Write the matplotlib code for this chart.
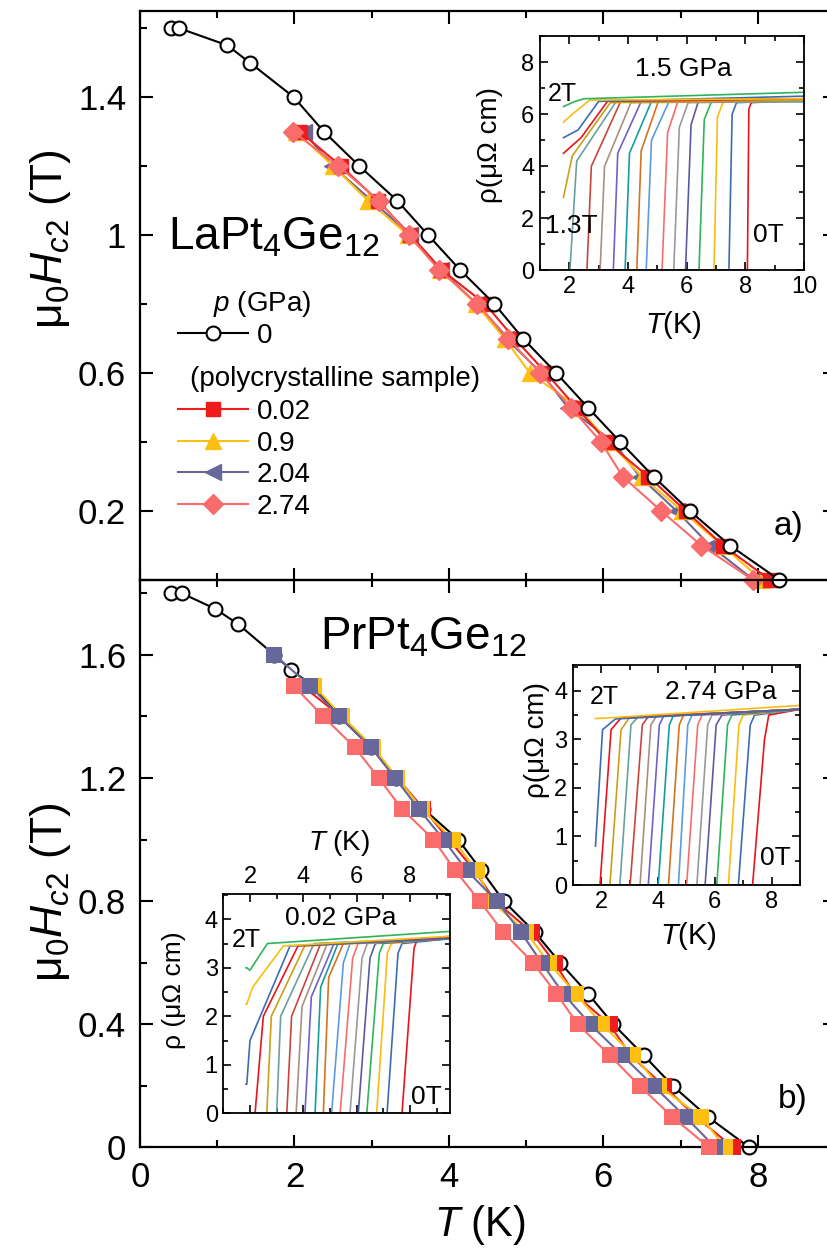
import matplotlib
matplotlib.use('Agg')
import matplotlib.pyplot as plt
from matplotlib.ticker import MultipleLocator, FixedLocator, FuncFormatter

plt.rcParams['font.family'] = ['Liberation Sans', 'DejaVu Sans']
plt.rcParams['mathtext.fontset'] = 'custom'
plt.rcParams['mathtext.rm'] = 'Liberation Sans'
plt.rcParams['mathtext.it'] = 'Liberation Sans:italic'
plt.rcParams['mathtext.bf'] = 'Liberation Sans:bold'

# ---------------- data: main panels ----------------
# LaPt4Ge12, p = 0 (polycrystalline sample)
la_T_0 = [0.4, 0.5, 1.13, 1.42, 1.99, 2.38, 2.84, 3.33, 3.73, 4.14, 4.59, 4.96, 5.39, 5.80, 6.22, 6.65, 7.12, 7.64, 8.28]
la_H_0 = [1.6, 1.6, 1.55, 1.5, 1.4, 1.3, 1.2, 1.1, 1.0, 0.9, 0.8, 0.7, 0.6, 0.5, 0.4, 0.3, 0.2, 0.1, 0.0]
la_H = [1.3, 1.2, 1.1, 1.0, 0.9, 0.8, 0.7, 0.6, 0.5, 0.4, 0.3, 0.2, 0.1, 0.0]
la_T_002 = [2.07, 2.60, 3.08, 3.50, 3.90, 4.47, 4.85, 5.26, 5.65, 6.05, 6.58, 7.07, 7.55, 8.16]
la_T_09 = [2.02, 2.50, 2.95, 3.47, 3.88, 4.35, 4.72, 5.05, 5.67, 6.07, 6.50, 7.02, 7.54, 8.05]
la_T_204 = [2.12, 2.49, 3.00, 3.50, 3.90, 4.36, 4.74, 5.20, 5.54, 6.13, 6.47, 6.95, 7.38, 7.95]
la_T_274 = [1.98, 2.57, 3.09, 3.48, 3.87, 4.37, 4.77, 5.18, 5.58, 5.97, 6.25, 6.75, 7.27, 7.94]

# PrPt4Ge12
pr_T_0 = [0.4, 0.54, 0.97, 1.27, 1.74, 1.96, 2.24, 2.58, 2.99, 3.32, 3.67, 4.12, 4.42, 4.71, 5.11, 5.44, 5.80, 6.13, 6.52, 6.90, 7.35, 7.89]
pr_H_0 = [1.8, 1.8, 1.75, 1.7, 1.6, 1.55, 1.5, 1.4, 1.3, 1.2, 1.1, 1.0, 0.9, 0.8, 0.7, 0.6, 0.5, 0.4, 0.3, 0.2, 0.1, 0.0]
pr_H = [1.5, 1.4, 1.3, 1.2, 1.1, 1.0, 0.9, 0.8, 0.7, 0.6, 0.5, 0.4, 0.3, 0.2, 0.1, 0.0]
pr_T_002 = [2.10, 2.60, 3.00, 3.33, 3.67, 4.00, 4.33, 4.60, 5.07, 5.37, 5.62, 6.08, 6.35, 6.78, 7.20, 7.68]
pr_T_09 = [2.25, 2.62, 3.02, 3.33, 3.65, 4.05, 4.36, 4.55, 5.00, 5.29, 5.64, 5.98, 6.39, 6.72, 7.26, 7.58]
pr_H_204 = [1.6] + pr_H
pr_T_204 = [1.74, 2.20, 2.58, 2.99, 3.30, 3.61, 3.93, 4.23, 4.62, 4.93, 5.20, 5.48, 5.83, 6.24, 6.65, 7.06, 7.45]
pr_T_274 = [1.99, 2.37, 2.78, 3.09, 3.39, 3.80, 4.08, 4.40, 4.70, 5.09, 5.39, 5.67, 6.08, 6.47, 6.89, 7.37]

# ---------------- data: resistivity insets ----------------
# each curve: rho = r0 up to t0, steep rise to (tk, rk), then up to (tn, rn), normal state to (Tmax, rend)
# top inset, LaPt4Ge12 at 1.5 GPa, fields 0T ... 2T
ins1_r0 = [0, 0, 0, 0, 0, 0, 0, 0, 0, 0, 0, 0, 0, 0, 2.8, 4.5, 5.1, 5.7, 6.3]
ins1_t0 = [8.07, 7.44, 6.93, 6.42, 5.96, 5.56, 5.16, 4.62, 4.30, 3.90, 3.50, 3.05, 2.60, 2.02, 1.8, 1.8, 1.8, 1.8, 1.8]
ins1_tk = [8.12, 7.55, 7.05, 6.60, 6.15, 5.75, 5.35, 4.80, 4.45, 4.05, 3.65, 3.20, 2.75, 2.25, 2.1, 2.4, 2.3, 2.2, 2.2]
ins1_rk = [6.2, 6.0, 5.9, 5.8, 5.6, 5.5, 5.3, 5.0, 4.6, 4.5, 4.5, 4.0, 4.0, 4.2, 4.4, 5.1, 5.4, 6.1, 6.5]
ins1_tn = [8.2, 7.7, 7.25, 6.85, 6.4, 6.05, 5.7, 5.4, 5.05, 4.8, 4.45, 4.1, 3.75, 3.6, 3.4, 3.3, 3.0, 2.7, 2.5]
ins1_rn = [6.45, 6.45, 6.5, 6.5, 6.5, 6.45, 6.5, 6.5, 6.55, 6.5, 6.5, 6.45, 6.5, 6.5, 6.45, 6.5, 6.5, 6.55, 6.6]
ins1_rend = [6.55, 6.55, 6.6, 6.5, 6.55, 6.5, 6.55, 6.5, 6.6, 6.5, 6.55, 6.5, 6.6, 6.5, 6.55, 6.6, 6.7, 6.6, 6.85]

# bottom-left inset, PrPt4Ge12 at 0.02 GPa
ins2_r0 = [0, 0, 0, 0, 0, 0, 0, 0, 0, 0, 0, 0, 0, 0, 0, 0, 0.6, 2.25, 3.0]
ins2_t0 = [7.70, 7.14, 6.75, 6.38, 6.06, 5.75, 5.38, 5.06, 4.75, 4.44, 4.06, 3.73, 3.38, 3.00, 2.63, 2.19, 1.88, 1.88, 1.88]
ins2_tk = [8.15, 7.55, 7.15, 6.85, 6.50, 6.20, 5.85, 5.50, 4.95, 4.65, 4.30, 3.95, 3.56, 3.15, 2.80, 2.50, 2.0, 2.1, 2.0]
ins2_rk = [3.4, 3.3, 3.3, 3.3, 3.2, 3.2, 3.2, 3.1, 2.8, 2.6, 2.4, 2.2, 2.0, 2.0, 2.0, 2.0, 1.5, 2.6, 2.95]
ins2_tn = [8.25, 7.70, 7.30, 7.00, 6.70, 6.40, 6.05, 5.75, 5.50, 5.30, 5.15, 4.90, 4.65, 4.40, 4.05, 3.80, 3.50, 3.25, 2.65]
ins2_rn = [3.55, 3.5, 3.5, 3.5, 3.5, 3.5, 3.5, 3.5, 3.5, 3.5, 3.5, 3.5, 3.5, 3.5, 3.45, 3.45, 3.45, 3.45, 3.5]
ins2_rend = [3.62, 3.6, 3.62, 3.65, 3.6, 3.62, 3.6, 3.62, 3.6, 3.62, 3.6, 3.62, 3.6, 3.62, 3.6, 3.62, 3.6, 3.65, 3.75]

# right inset, PrPt4Ge12 at 2.74 GPa
ins3_r0 = [0, 0, 0, 0, 0, 0, 0, 0, 0, 0, 0, 0, 0, 0, 0, 0, 0.8, 3.43]
ins3_t0 = [7.33, 6.83, 6.48, 6.07, 5.66, 5.37, 5.01, 4.72, 4.37, 4.01, 3.66, 3.37, 3.02, 2.66, 2.31, 1.96, 1.8, 1.8]
ins3_tk = [7.75, 7.25, 6.85, 6.45, 6.05, 5.75, 5.40, 5.05, 4.75, 4.40, 4.05, 3.75, 3.45, 3.05, 2.70, 2.35, 2.05, 1.85]
ins3_rk = [3.0, 3.3, 3.3, 3.3, 3.3, 3.3, 3.3, 3.3, 3.3, 3.3, 3.3, 3.3, 3.3, 3.3, 3.2, 3.2, 3.2, 3.43]
ins3_tn = [7.9, 7.4, 7.0, 6.6, 6.25, 5.9, 5.55, 5.2, 4.9, 4.55, 4.2, 3.95, 3.65, 3.3, 3.0, 2.7, 2.5, 1.9]
ins3_rn = [3.5, 3.5, 3.5, 3.5, 3.5, 3.5, 3.5, 3.5, 3.5, 3.5, 3.48, 3.48, 3.46, 3.46, 3.45, 3.44, 3.42, 3.43]
ins3_rend = [3.62, 3.62, 3.62, 3.62, 3.62, 3.62, 3.62, 3.62, 3.62, 3.62, 3.62, 3.62, 3.62, 3.62, 3.62, 3.62, 3.62, 3.7]

pal = ['#e8141c', '#3c6db4', '#fbbc12', '#2fb45a', '#5a5aa0', '#9a9a9a', '#f56e6e', '#5d9bdc',
       '#d2731e', '#159e9e', '#7060c8', '#a89080', '#c8463c', '#6aa0a0', '#c9a018']

c_red = '#ee1c1c'
c_yel = '#fcbf12'
c_blu = '#67679a'
c_pnk = '#fa6b6b'

gfmt = FuncFormatter(lambda v, p: '%g' % v)


def style_main(ax):
    for s in ax.spines.values():
        s.set_linewidth(1.6)
    ax.tick_params(which='both', direction='in', top=True, right=True, width=1.5, labelsize=25)
    ax.tick_params(which='major', length=9, pad=10)
    ax.tick_params(which='minor', length=5)
    ax.set_xlim(0, 9)
    ax.xaxis.set_major_locator(MultipleLocator(2))
    ax.xaxis.set_minor_locator(MultipleLocator(1))
    ax.yaxis.set_major_formatter(gfmt)


def draw_inset(ax, tmin, tmax, r0, t0, tk, rk, tn, rn, rend):
    for i in range(len(t0)):
        T = [tmin, t0[i], tk[i], tn[i], tmax]
        R = [r0[i], r0[i], rk[i], rn[i], rend[i]]
        ax.plot(T, R, color=pal[i % len(pal)], lw=1.2)
    for s in ax.spines.values():
        s.set_linewidth(1.3)
    ax.tick_params(which='both', direction='in', top=True, right=True, width=1.2, labelsize=17)
    ax.tick_params(which='major', length=6, pad=4)
    ax.tick_params(which='minor', length=3.5)
    ax.xaxis.set_major_locator(MultipleLocator(2))
    ax.xaxis.set_minor_locator(MultipleLocator(1))


fig = plt.figure(figsize=(8.28, 12.49), dpi=100)
ax1 = fig.add_axes([0.1691, 0.5356, 0.8394, 0.4552])
ax2 = fig.add_axes([0.1691, 0.0813, 0.8394, 0.4543])
ax2.set_facecolor('none')

# ---------------- top panel ----------------
kw = dict(lw=1.5, clip_on=False)
l204, = ax1.plot(la_T_204, la_H, color=c_blu, marker='<', ms=12, mec=c_blu, zorder=3, **kw)
l09, = ax1.plot(la_T_09, la_H, color=c_yel, marker='^', ms=12, mec=c_yel, zorder=4, **kw)
l002, = ax1.plot(la_T_002, la_H, color=c_red, marker='s', ms=9.5, mec=c_red, zorder=5, **kw)
l274, = ax1.plot(la_T_274, la_H, color=c_pnk, marker='D', ms=10.5, mec=c_pnk, zorder=6, **kw)
l0, = ax1.plot(la_T_0, la_H_0, color='black', marker='o', ms=10, mfc='white', mec='black', mew=1.5,
               zorder=7, **kw)

style_main(ax1)
ax1.set_ylim(0, 1.648)
ax1.yaxis.set_major_locator(FixedLocator([0.2, 0.6, 1.0, 1.4]))
ax1.yaxis.set_minor_locator(FixedLocator([0.0, 0.4, 0.8, 1.2, 1.6]))
ax1.tick_params(labelbottom=False)

ax1.text(-0.1295, 0.60, r'μ$_0$$H_{c2}$ (T)', transform=ax1.transAxes, rotation=90,
         ha='center', va='center', fontsize=32)
ax1.text(0.0403, 0.582, r'LaPt$_4$Ge$_{12}$', transform=ax1.transAxes, fontsize=33, va='baseline')
ax1.text(0.954, 0.095, 'a)', transform=ax1.transAxes, fontsize=24, ha='right', va='center')

ax1.text(0.105, 0.4855, r'$p$ (GPa)', transform=ax1.transAxes, fontsize=20, va='center')
ax1.text(0.072, 0.3536, '(polycrystalline sample)', transform=ax1.transAxes, fontsize=20, va='center')
leg_kw = dict(loc='upper left', frameon=False, fontsize=20, borderpad=0, borderaxespad=0,
              handlelength=2.52, handletextpad=0.32, labelspacing=0.2, numpoints=1)
leg_a = ax1.legend([l0], ['0'], bbox_to_anchor=(0.0547, 0.452), **leg_kw)
ax1.add_artist(leg_a)
ax1.legend([l002, l09, l204, l274], ['0.02', '0.9', '2.04', '2.74'],
           bbox_to_anchor=(0.0547, 0.3184), **leg_kw)

# ---------------- bottom panel ----------------
ax2.plot(pr_T_0, pr_H_0, color='black', marker='o', ms=10, mfc='white', mec='black', mew=1.5,
         zorder=2, **kw)
ax2.plot(pr_T_002, pr_H, color=c_red, marker='s', ms=11, mew=0, zorder=3, **kw)
ax2.plot(pr_T_09, pr_H, color=c_yel, marker='s', ms=11, mew=0, zorder=4, **kw)
ax2.plot(pr_T_204, pr_H_204, color=c_blu, marker='s', ms=11, mew=0, zorder=5, **kw)
ax2.plot(pr_T_274, pr_H, color=c_pnk, marker='s', ms=11, mew=0, zorder=6, **kw)

style_main(ax2)
ax2.set_ylim(0, 1.843)
ax2.yaxis.set_major_locator(MultipleLocator(0.4))
ax2.yaxis.set_minor_locator(MultipleLocator(0.2))

ax2.text(-0.1295, 0.45, r'μ$_0$$H_{c2}$ (T)', transform=ax2.transAxes, rotation=90,
         ha='center', va='center', fontsize=32)
ax2.text(0.489, -0.137, r'$T$ (K)', transform=ax2.transAxes, ha='center', va='center', fontsize=30)
ax2.text(0.259, 0.877, r'PrPt$_4$Ge$_{12}$', transform=ax2.transAxes, fontsize=33, va='baseline')
ax2.text(0.961, 0.084, 'b)', transform=ax2.transAxes, fontsize=24, ha='right', va='center')

# ---------------- insets ----------------
in1 = fig.add_axes([0.6522, 0.7838, 0.3188, 0.187])
draw_inset(in1, 1.8, 10, ins1_r0, ins1_t0, ins1_tk, ins1_rk, ins1_tn, ins1_rn, ins1_rend)
in1.set_xlim(1, 10)
in1.set_ylim(0, 9)
in1.yaxis.set_major_locator(MultipleLocator(2))
in1.yaxis.set_minor_locator(MultipleLocator(1))
in1.text(0.542, 0.86, '1.5 GPa', transform=in1.transAxes, ha='center', va='center', fontsize=19)
in1.text(0.03, 0.753, '2T', transform=in1.transAxes, va='center', fontsize=18)
in1.text(0.02, 0.19, '1.3T', transform=in1.transAxes, va='center', fontsize=19)
in1.text(0.807, 0.15, '0T', transform=in1.transAxes, va='center', fontsize=19)
in1.text(0.504, -0.235, r'$T$(K)', transform=in1.transAxes, ha='center', va='center', fontsize=21)
in1.text(-0.19, 0.535, 'ρ(μΩ cm)', transform=in1.transAxes, rotation=90, ha='center', va='center',
         fontsize=20)

in2 = fig.add_axes([0.2697, 0.1086, 0.2738, 0.1756])
draw_inset(in2, 1.85, 9.5, ins2_r0, ins2_t0, ins2_tk, ins2_rk, ins2_tn, ins2_rn, ins2_rend)
in2.set_xlim(1, 9.5)
in2.set_ylim(0, 4.52)
in2.yaxis.set_major_locator(MultipleLocator(1))
in2.yaxis.set_minor_locator(MultipleLocator(0.5))
in2.tick_params(labeltop=True, labelbottom=False)
in2.text(0.519, 0.89, '0.02 GPa', transform=in2.transAxes, ha='center', va='center', fontsize=19)
in2.text(0.038, 0.79, '2T', transform=in2.transAxes, va='center', fontsize=18)
in2.text(0.83, 0.074, '0T', transform=in2.transAxes, va='center', fontsize=19)
in2.text(0.511, 1.232, r'$T$ (K)', transform=in2.transAxes, ha='center', va='center', fontsize=20)
in2.text(-0.217, 0.56, 'ρ (μΩ cm)', transform=in2.transAxes, rotation=90, ha='center', va='center',
         fontsize=19)

in3 = fig.add_axes([0.6917, 0.2914, 0.2745, 0.1761])
draw_inset(in3, 1.8, 9, ins3_r0, ins3_t0, ins3_tk, ins3_rk, ins3_tn, ins3_rn, ins3_rend)
in3.set_xlim(1, 9)
in3.set_ylim(0, 4.53)
in3.yaxis.set_major_locator(MultipleLocator(1))
in3.yaxis.set_minor_locator(MultipleLocator(0.5))
in3.text(0.652, 0.879, '2.74 GPa', transform=in3.transAxes, ha='center', va='center', fontsize=19)
in3.text(0.076, 0.856, '2T', transform=in3.transAxes, va='center', fontsize=18)
in3.text(0.824, 0.123, '0T', transform=in3.transAxes, va='center', fontsize=19)
in3.text(0.507, -0.23, r'$T$(K)', transform=in3.transAxes, ha='center', va='center', fontsize=21)
in3.text(-0.157, 0.66, 'ρ(μΩ cm)', transform=in3.transAxes, rotation=90, ha='center', va='center',
         fontsize=20)

fig.savefig('out.png', dpi=100)
